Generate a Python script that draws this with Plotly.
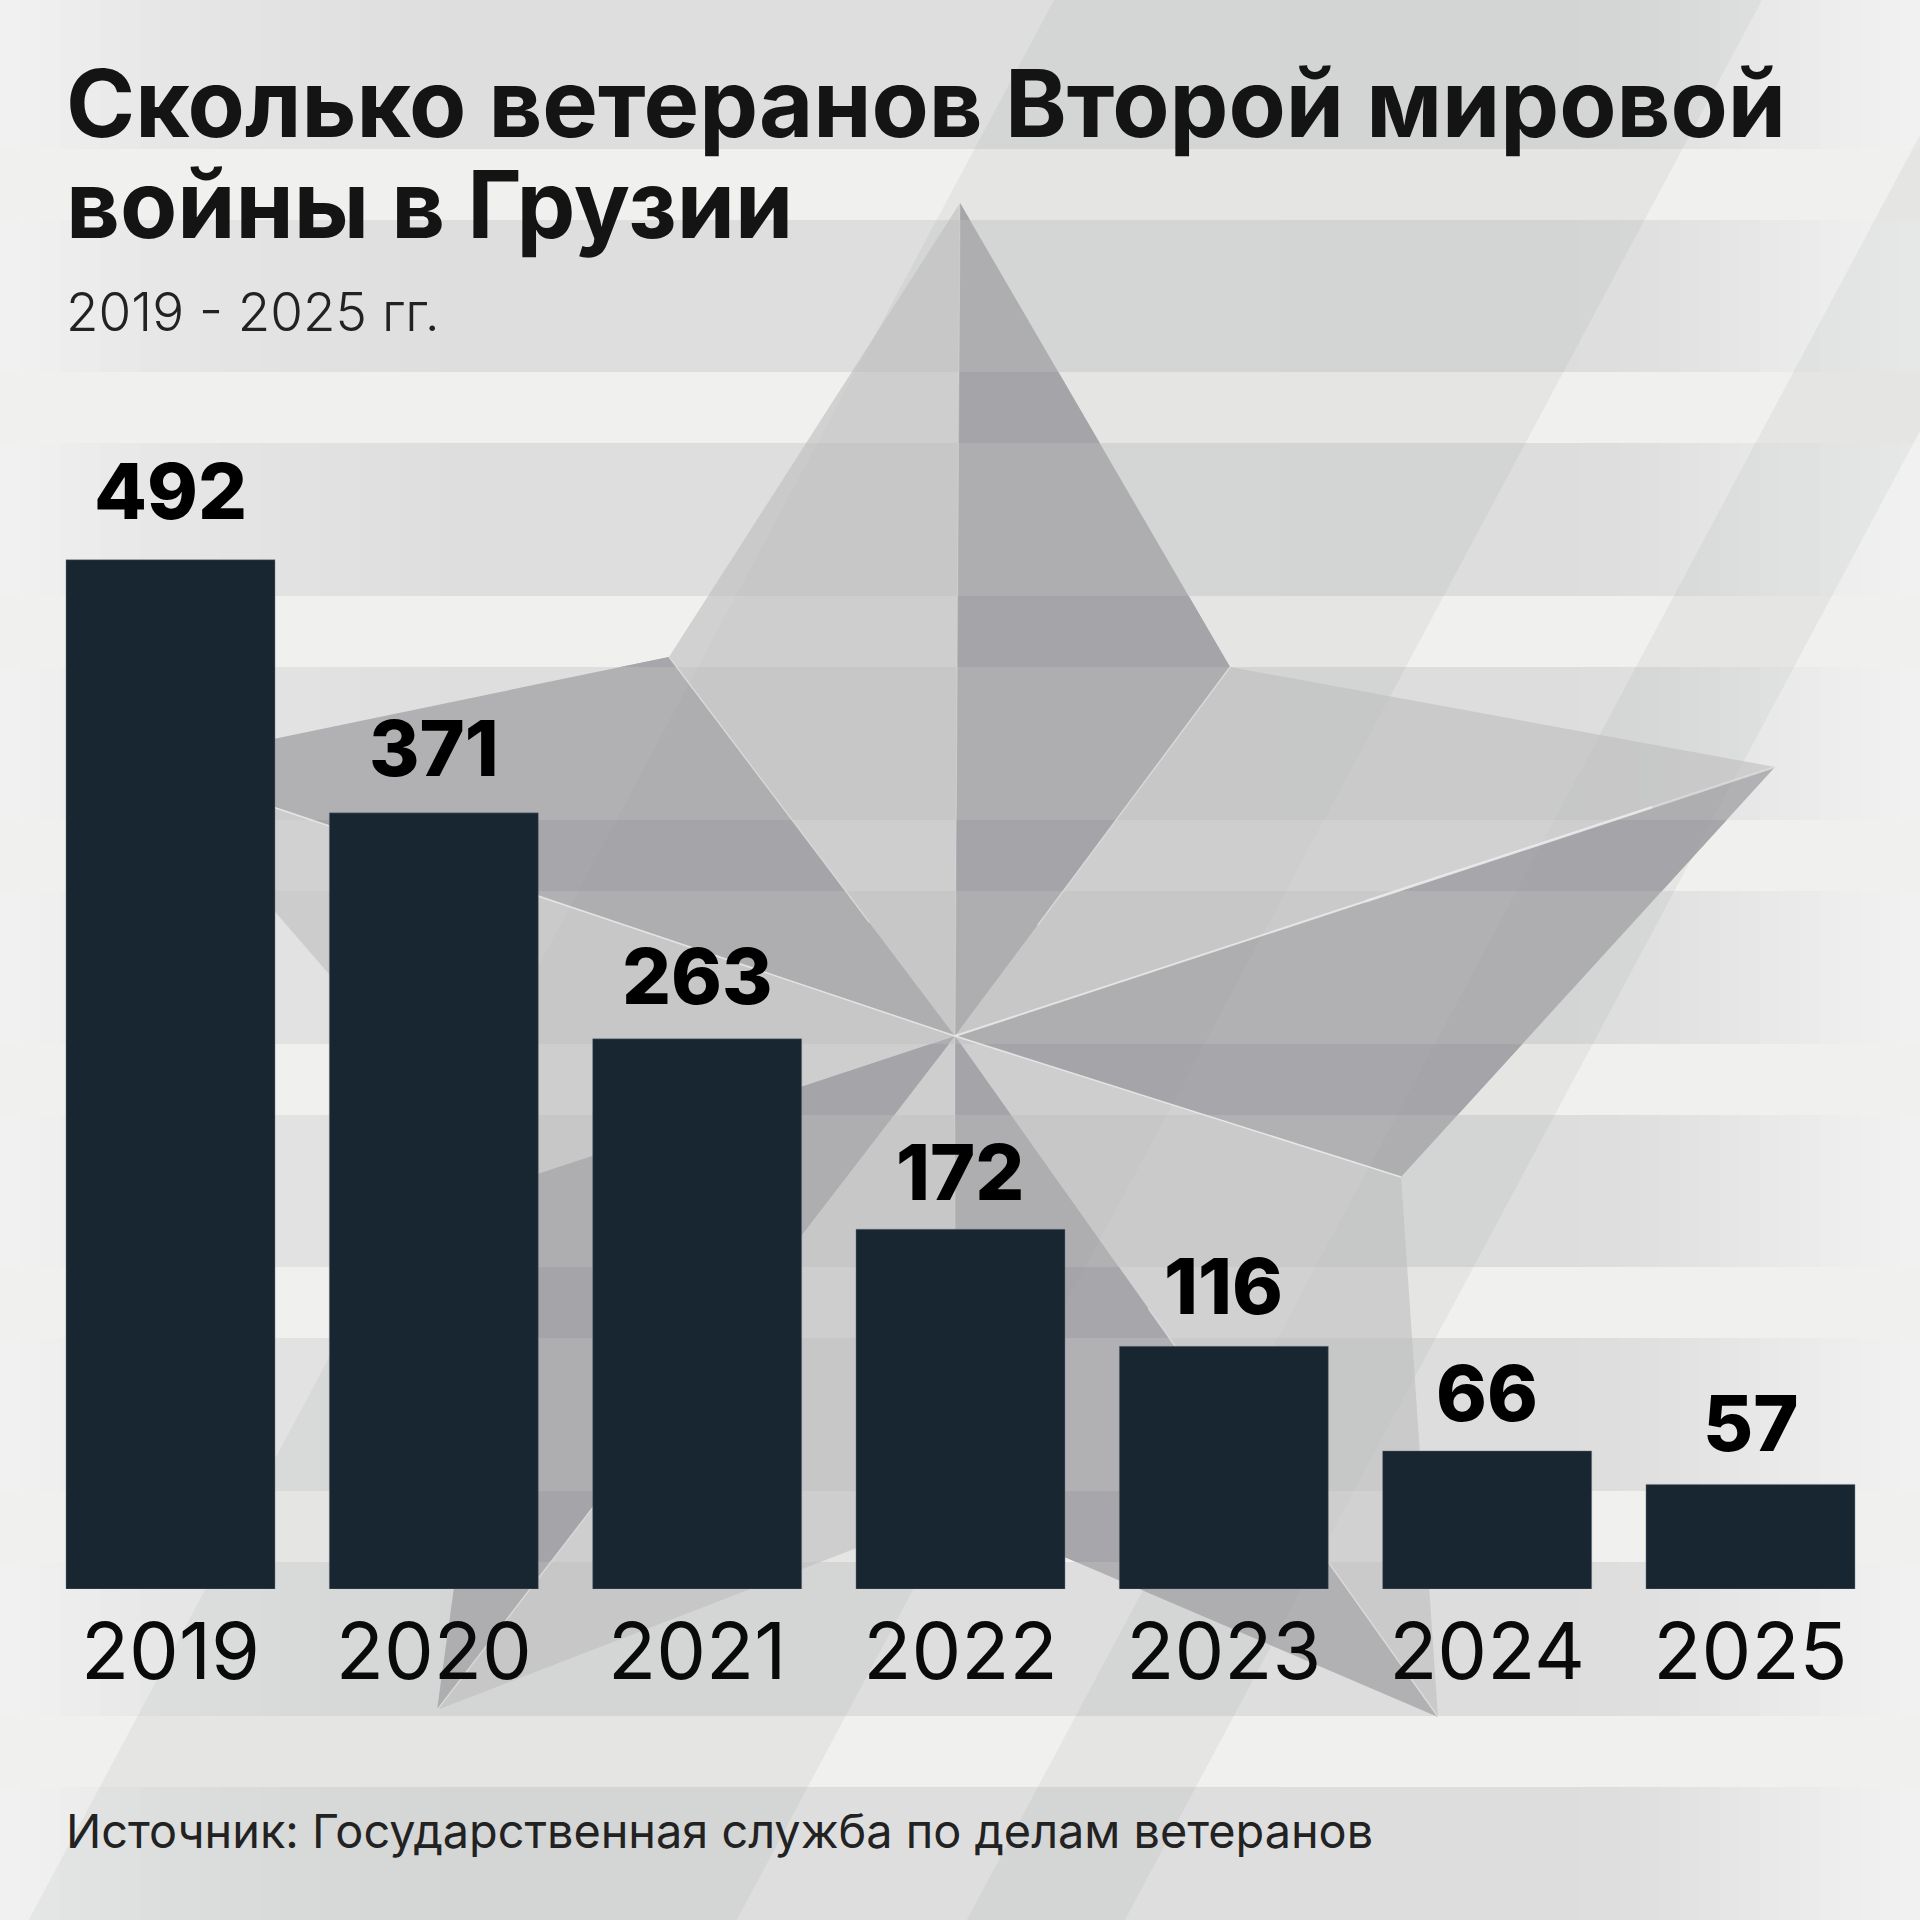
import plotly.graph_objects as go

# ---- data ----
years = ["2019", "2020", "2021", "2022", "2023", "2024", "2025"]
value_labels = [492, 371, 263, 172, 116, 66, 57]
# bar heights (the 2025 bar is drawn shorter than its label of 57)
bar_values = [492, 371, 263, 172, 116, 66, 50]
title_lines = ["Сколько ветеранов Второй мировой", "войны в Грузии"]
subtitle = "2019 - 2025 гг."
source = "Источник: Государственная служба по делам ветеранов"

# ---- layout constants (pixels) ----
W = 1920
BASE = 1589
PX_PER_UNIT = 2.092
STEP = 263.33
FIRST = 170.5
BAR_W = 209

def fx(px):
    return px / W

def fy(py):
    return (BASE - py) / BASE

def path(pts):
    return "M " + " L ".join(f"{fx(x):.5f},{fy(y):.5f}" for x, y in pts) + " Z"

shapes = []

def add_poly(pts, fill):
    if len(pts) >= 3:
        shapes.append(dict(type="path", path=path(pts), xref="paper", yref="paper",
                           fillcolor=fill, line=dict(width=0), layer="below"))

def add_line(a, b, color, width):
    shapes.append(dict(type="line", x0=fx(a[0]), y0=fy(a[1]), x1=fx(b[0]), y1=fy(b[1]),
                       xref="paper", yref="paper", line=dict(color=color, width=width), layer="below"))

def clip(poly, inside, inter):
    out = []
    for i, p in enumerate(poly):
        q = poly[(i + 1) % len(poly)]
        pi, qi = inside(p), inside(q)
        if pi:
            out.append(p)
        if pi != qi:
            out.append(inter(p, q))
    return out

def clip_y(poly, y0, y1):
    def hi(p, q, y):
        t = (y - p[1]) / (q[1] - p[1])
        return (p[0] + t * (q[0] - p[0]), y)
    poly = clip(poly, lambda p: p[1] >= y0, lambda p, q: hi(p, q, y0))
    if not poly:
        return poly
    return clip(poly, lambda p: p[1] <= y1, lambda p, q: hi(p, q, y1))

SLOPE = 0.534

def clip_band(poly, c0, c1):
    def val(p):
        return p[0] + SLOPE * p[1]
    def hi(p, q, c):
        t = (c - val(p)) / (val(q) - val(p))
        return (p[0] + t * (q[0] - p[0]), p[1] + t * (q[1] - p[1]))
    poly = clip(poly, lambda p: val(p) >= c0, lambda p, q: hi(p, q, c0))
    if not poly:
        return poly
    return clip(poly, lambda p: val(p) <= c1, lambda p, q: hi(p, q, c1))

# background gradient
stops = [(0, 242), (60, 238), (150, 231), (300, 226), (450, 222), (1000, 222), (1560, 221),
         (1640, 223), (1760, 232), (1850, 238), (1920, 241)]

def grey(x):
    for (a, va), (b, vb) in zip(stops, stops[1:]):
        if a <= x <= b:
            return va + (vb - va) * (x - a) / (b - a)
    return stops[-1][1]

n = 96
for i in range(n):
    x0 = W * i / n
    x1 = W * (i + 1) / n
    g = round(grey((x0 + x1) / 2))
    add_poly([(x0, 0), (x1 + 1, 0), (x1 + 1, 1920), (x0, 1920)], f"rgb({g},{g},{g})")

# light stripes
stripe_tops = [149, 372, 596, 820, 1044, 1267, 1491, 1716]
STRIPE_H = 71
for t in stripe_tops:
    add_poly([(0, t), (W, t), (W, t + STRIPE_H), (0, t + STRIPE_H)], "#f0f0ee")

# diagonal translucent bands
bands = [(1054, 1762), (1920 + SLOPE * 135, 1920 + SLOPE * 431)]
page = [(0, 0), (W, 0), (W, 1920), (0, 1920)]
for c0, c1 in bands:
    add_poly(clip_band(page, c0, c1), "rgba(25,50,40,0.047)")

# star
C = (955, 1036)
top = (960, 203)
in_ur = (1230, 667)
right = (1775, 767)
in_r = (1401, 1177)
lr = (1438, 1717)
in_b = (955, 1510)
ll = (437, 1710)
in_l = (510, 1183)
left = (148, 765)
in_ul = (669, 657)

light = [[C, top, in_ul], [C, in_ur, right], [C, in_r, lr], [C, in_b, ll], [C, in_l, left]]
dark = [[C, top, in_ur], [C, right, in_r], [C, lr, in_b], [C, ll, in_l], [C, left, in_ul]]

for f in light:
    add_poly(f, "rgba(190,191,190,0.62)")
for f in dark:
    add_poly(f, "#b1b1b3")
    for t in stripe_tops:
        add_poly(clip_y(f, t, t + STRIPE_H), "#a7a6aa")
    for c0, c1 in bands:
        add_poly(clip_band(f, c0, c1), "rgba(0,0,0,0.012)")

def partway(a, t):
    return (C[0] + (a[0] - C[0]) * t, C[1] + (a[1] - C[1]) * t)

# strong highlights from the centre
add_line(C, left, "rgba(240,240,240,0.75)", 1.5)
add_line(C, in_r, "rgba(240,240,240,0.8)", 1.6)
add_line(C, partway(right, 0.5), "rgba(238,238,238,0.8)", 2)
add_line(partway(right, 0.5), partway(right, 0.85), "rgba(238,238,238,0.85)", 2.6)
add_line(partway(right, 0.85), right, "rgba(225,225,225,0.7)", 2.2)
# fainter creases that appear only away from the centre
for a, t in [(in_ul, 0.3), (in_ur, 0.3), (ll, 0.3), (lr, 0.4)]:
    add_line(partway(a, t), a, "rgba(240,240,240,0.55)", 1.3)
add_line(C, top, "rgba(240,240,240,0.22)", 1.2)
add_line(C, in_b, "rgba(240,240,240,0.16)", 1.2)

# bars
fig = go.Figure(go.Bar(x=years, y=bar_values,
                       marker=dict(color="#172630", line=dict(width=0.8, color="rgba(110,125,135,0.55)")),
                       showlegend=False))

anns = []

def text_ann(txt, x_px, base_px, size, weight, color, family="Inter"):
    anns.append(dict(text=txt, xref="paper", yref="paper", x=fx(x_px), y=fy(base_px),
                     xanchor="left", yanchor="bottom", yshift=-size * 0.27, showarrow=False, align="left",
                     font=dict(family=family, size=size, weight=weight, color=color)))

text_ann(title_lines[0], 64, 137, 93.5, 700, "#141414")
text_ann(title_lines[1], 64, 238, 93.5, 700, "#141414")
text_ann(subtitle, 64, 332, 53, 300, "#222222")
text_ann(source, 64, 1848, 46.8, 400, "#222222")

label_gaps = [40, 36, 34, 29, 32, 29, 33]
for i, (v, h, g) in enumerate(zip(value_labels, bar_values, label_gaps)):
    anns.append(dict(text=str(v), x=i, y=h, xref="x", yref="y", yanchor="bottom", xanchor="center",
                     yshift=g - 76 * 0.27, showarrow=False,
                     font=dict(family="Inter", size=77, weight=800, color="#000000")))

fig.update_layout(
    width=1920, height=1920, margin=dict(l=0, r=0, t=0, b=W - BASE), autosize=False,
    paper_bgcolor="#f0f0ee", plot_bgcolor="rgba(0,0,0,0)",
    bargap=1 - BAR_W / STEP, shapes=shapes, annotations=anns,
    xaxis=dict(type="category", range=[-FIRST / STEP, (W - FIRST) / STEP], showgrid=False, zeroline=False,
               showline=False, ticks="", ticklabelstandoff=10,
               tickfont=dict(family="Inter", size=79, weight=400, color="#0a0a0a")),
    yaxis=dict(range=[0, BASE / PX_PER_UNIT], visible=False, fixedrange=True),
)
fig.write_html("out.html", config=dict(displayModeBar=False),
               post_script="document.body.style.margin='0';document.documentElement.style.background='#f0f0ee';")
